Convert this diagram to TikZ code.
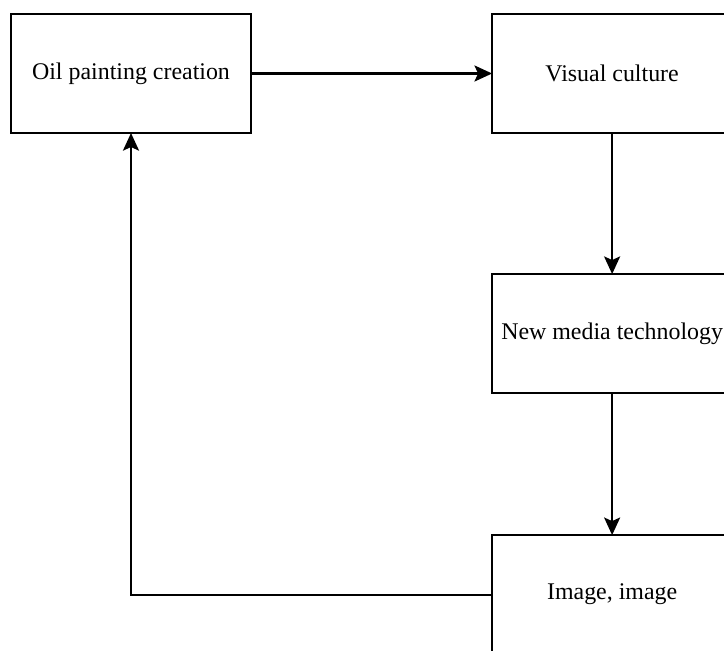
\documentclass[tikz,border=0pt]{standalone}
\usepackage{fontspec}
\setmainfont{Liberation Serif}
\usetikzlibrary{arrows.meta, positioning}

\begin{document}
\begin{tikzpicture}[x=0.025cm, y=-0.025cm, font=\fontsize{17}{20}\selectfont,
    BOX/.style={draw, line width=1.6pt, minimum width=6cm, minimum height=2.975cm, inner sep=0pt, outer sep=0pt, align=center},
    ARR/.style={-{Stealth[length=0.44cm,width=0.4cm,inset=0.09cm]}, line width=1.6pt}]
    \clip (0,0) rectangle (724,651);
    \node[BOX] (oil) at (131,73.5) {Oil painting creation};
    \node[BOX, right=6.025cm of oil] (vis) {Visual culture};
    \node[BOX, below=3.525cm of vis] (media) {New media technology};
    \node[BOX, below=3.55cm of media] (img) {Image, image};
    \draw[ARR] (oil.east) -- (vis.west);
    \draw[ARR] (vis.south) -- (media.north);
    \draw[ARR] (media.south) -- (img.north);
    \draw[ARR] (img.west) -| (oil.south);
\end{tikzpicture}
\end{document}
